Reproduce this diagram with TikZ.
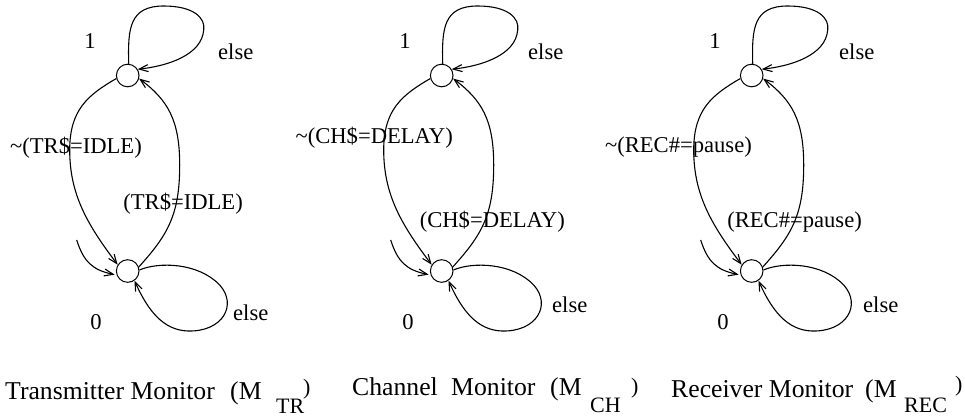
\documentclass[tikz,border=0pt]{standalone}
\usepackage{fontspec}
\setmainfont{Liberation Serif}
\usetikzlibrary{arrows.meta}

\tikzset{
  state/.style={circle, draw, line width=1pt, minimum size=22.6pt, inner sep=0pt},
  edge/.style={line width=1.1pt, -{Straight Barb[length=9pt,width=7pt]}},
  lbl/.style={inner sep=0pt, font=\fontsize{22.6}{26}\selectfont},
  captext/.style={inner sep=0pt, anchor=base west, font=\fontsize{25.7}{30}\selectfont},
  subtext/.style={inner sep=0pt, anchor=base west, font=\fontsize{22}{26}\selectfont},
}

\begin{document}
\begin{tikzpicture}[x=1pt, y=-1pt]
\useasboundingbox (0,0) rectangle (965,416);

% the same two-state monitor, drawn three times
\foreach \px/\nm in {127.7/tr, 441.7/ch, 751.7/rec} {
  \begin{scope}[shift={(\px,0)}]
    \node[state] (\nm one)  at (0,75.5) {};
    \node[state] (\nm zero) at (0,271)  {};
    \coordinate (\nm init) at (-51,240);
    % self-loop on state 1
    \draw[edge] (\nm one.85) .. controls (0,28) and (2,6) .. (36,6)
          .. controls (66,6) and (78,18) .. (76,30)
          .. controls (74,55) and (40,66) .. (\nm one.32);
    % 1 -> 0
    \draw[edge] (\nm one.195) .. controls (-40,95) and (-58,110) .. (-58,150)
          .. controls (-58,195) and (-40,225) .. (\nm zero.148);
    % 0 -> 1
    \draw[edge] (\nm zero.20) .. controls (40,235) and (52,215) .. (52,165)
          .. controls (52,120) and (40,100) .. (\nm one.-15);
    % initial arrow into state 0
    \draw[edge, shorten >=2pt] (\nm init) .. controls (-44,262) and (-35,270) .. (\nm zero.200);
    % self-loop on state 0
    \draw[edge] (\nm zero.5) .. controls (30,262) and (70,262) .. (92,285)
          .. controls (110,305) and (95,332) .. (60,331)
          .. controls (35,330) and (20,310) .. (\nm zero.-55);
  \end{scope}
}

% Transmitter monitor labels
\node[lbl, anchor=base] (tr1) at (90,48) {1};
\node[lbl, anchor=base west] (trelse1) at (218,59) {else};
\node[lbl, anchor=base east] (trne) at (142,153) {\textasciitilde(TR\$=IDLE)};
\node[lbl, anchor=base east] (treq) at (243,209) {(TR\$=IDLE)};
\node[lbl, anchor=base] (tr0) at (96,329) {0};
\node[lbl, anchor=base west] (trelse0) at (233,320) {else};

% Channel monitor labels
\node[lbl, anchor=base] (ch1) at (405,48) {1};
\node[lbl, anchor=base west] (chelse1) at (528,59) {else};
\node[lbl, anchor=base east] (chne) at (453,143) {\textasciitilde(CH\$=DELAY)};
\node[lbl, anchor=base east] (cheq) at (565,227) {(CH\$=DELAY)};
\node[lbl, anchor=base] (ch0) at (408,329) {0};
\node[lbl, anchor=base west] (chelse0) at (552,312) {else};

% Receiver monitor labels
\node[lbl, anchor=base] (rec1) at (715,48) {1};
\node[lbl, anchor=base west] (recelse1) at (839,59) {else};
\node[lbl, anchor=base east] (recne) at (752,152) {\textasciitilde(REC\#=pause)};
\node[lbl, anchor=base east] (receq) at (862,227) {(REC\#=pause)};
\node[lbl, anchor=base] (rec0) at (723,329) {0};
\node[lbl, anchor=base west] (recelse0) at (863,312) {else};

% captions
\node[captext] (captr) at (5,399) {Transmitter Monitor};
\node[captext] (captrm) at (230,399) {(M};
\node[subtext] (captrs) at (276,413) {TR};
\node[subtext] (captrp) at (303,394) {)};

\node[captext] (capch) at (352,395) {Channel};
\node[captext] (capchb) at (451,395) {Monitor};
\node[captext] (capchm) at (550,395) {(M};
\node[subtext] (capchs) at (590,412.5) {CH};
\node[subtext] (capchp) at (631,393) {)};

\node[captext] (caprec) at (671,397) {Receiver Monitor};
\node[captext] (caprecm) at (865,397) {(M};
\node[subtext] (caprecs) at (904,412.5) {REC};
\node[subtext] (caprecp) at (955,391) {)};
\end{tikzpicture}
\end{document}
